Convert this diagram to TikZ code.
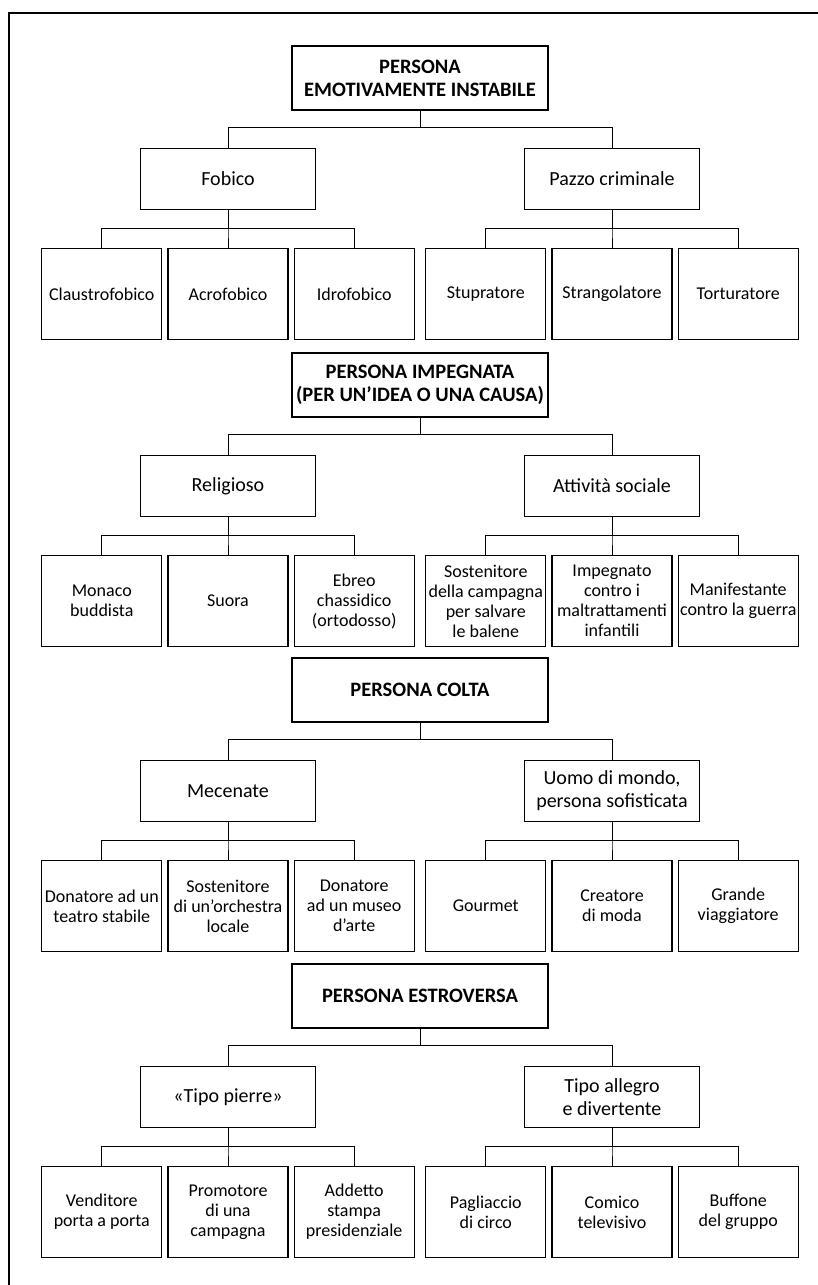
\documentclass[tikz,border=0pt]{standalone}
\usepackage{fontspec}
\setmainfont{Carlito}
\usetikzlibrary{positioning}
\tikzset{
    root/.style={rectangle, draw=black, line width=1.4pt, minimum width=256pt, minimum height=64pt, text centered, align=center, inner sep=2pt, font=\fontsize{20.5}{23}\selectfont\bfseries},
    group/.style={rectangle, draw=black, line width=1.2pt, minimum width=175pt, minimum height=61pt, text centered, align=center, inner sep=2pt, font=\fontsize{20}{23}\selectfont},
    leaf/.style={rectangle, draw=black, line width=1.2pt, minimum width=120pt, minimum height=91pt, text centered, align=center, inner sep=1pt, font=\fontsize{18}{20}\selectfont},
    link/.style={line width=1pt}
}
\begin{document}
\begin{tikzpicture}
    \useasboundingbox (0,0) rectangle (818pt,-1285pt);
    % Frame
    \draw[line width=1.2pt] (9pt,-1285pt) -- (9pt,-13pt) -- (818pt,-13pt);
    % Section 1
    \node (emot) [root] at (420pt,-78pt) {PERSONA\\EMOTIVAMENTE INSTABILE};
    \node (fobico) [group, below=37pt of emot, xshift=-192pt] {Fobico};
    \node (pazzo) [group, below=37pt of emot, xshift=192pt] {Pazzo criminale};
    \node (acro) [leaf, below=38pt of fobico] {Acrofobico};
    \node (claus) [leaf, left=5pt of acro] {Claustrofobico};
    \node (idro) [leaf, right=5pt of acro] {Idrofobico};
    \node (strang) [leaf, below=38pt of pazzo] {Strangolatore};
    \node (stupr) [leaf, left=5pt of strang] {Stupratore};
    \node (tort) [leaf, right=5pt of strang] {Torturatore};
    % Section 2
    \node (impegn) [root] at (420pt,-385pt) {PERSONA IMPEGNATA\\(PER UN’IDEA O UNA CAUSA)};
    \node (relig) [group, below=37pt of impegn, xshift=-192pt] {Religioso};
    \node (sociale) [group, below=37pt of impegn, xshift=192pt] {Attività sociale};
    \node (suora) [leaf, below=38pt of relig] {Suora};
    \node (monaco) [leaf, left=5pt of suora] {Monaco\\buddista};
    \node (ebreo) [leaf, right=5pt of suora] {Ebreo\\chassidico\\(ortodosso)};
    \node (infanz) [leaf, below=38pt of sociale] {Impegnato\\contro i\\maltrattamenti\\infantili};
    \node (balene) [leaf, left=5pt of infanz] {Sostenitore\\della campagna\\per salvare\\le balene};
    \node (guerra) [leaf, right=5pt of infanz] {Manifestante\\contro la guerra};
    % Section 3
    \node (colta) [root] at (420pt,-690pt) {PERSONA COLTA};
    \node (mecen) [group, below=37pt of colta, xshift=-192pt] {Mecenate};
    \node (uomo) [group, below=37pt of colta, xshift=192pt] {Uomo di mondo,\\persona sofisticata};
    \node (orch) [leaf, below=38pt of mecen] {Sostenitore\\di un’orchestra\\locale};
    \node (teatro) [leaf, left=5pt of orch] {Donatore ad un\\teatro stabile};
    \node (museo) [leaf, right=5pt of orch] {Donatore\\ad un museo\\d’arte};
    \node (moda) [leaf, below=38pt of uomo] {Creatore\\di moda};
    \node (gourmet) [leaf, left=5pt of moda] {Gourmet};
    \node (viagg) [leaf, right=5pt of moda] {Grande\\viaggiatore};
    % Section 4
    \node (estro) [root] at (420pt,-996pt) {PERSONA ESTROVERSA};
    \node (pierre) [group, below=37pt of estro, xshift=-192pt] {«Tipo pierre»};
    \node (allegro) [group, below=37pt of estro, xshift=192pt] {Tipo allegro\\e divertente};
    \node (promot) [leaf, below=38pt of pierre] {Promotore\\di una\\campagna};
    \node (vendit) [leaf, left=5pt of promot] {Venditore\\porta a porta};
    \node (stampa) [leaf, right=5pt of promot] {Addetto\\stampa\\presidenziale};
    \node (comico) [leaf, below=38pt of allegro] {Comico\\televisivo};
    \node (pagl) [leaf, left=5pt of comico] {Pagliaccio\\di circo};
    \node (buff) [leaf, right=5pt of comico] {Buffone\\del gruppo};
    % Connectors
    \foreach \top/\kid in {emot/fobico, emot/pazzo, impegn/relig, impegn/sociale,
                           colta/mecen, colta/uomo, estro/pierre, estro/allegro}
        \draw[link] (\top.south) -- ++(0,-17pt) -| (\kid.north);
    \foreach \mid/\kid in {fobico/claus, fobico/acro, fobico/idro,
                           pazzo/stupr, pazzo/strang, pazzo/tort,
                           relig/monaco, relig/suora, relig/ebreo,
                           sociale/balene, sociale/infanz, sociale/guerra,
                           mecen/teatro, mecen/orch, mecen/museo,
                           uomo/gourmet, uomo/moda, uomo/viagg,
                           pierre/vendit, pierre/promot, pierre/stampa,
                           allegro/pagl, allegro/comico, allegro/buff}
        \draw[link] (\mid.south) -- ++(0,-19pt) -| (\kid.north);
\end{tikzpicture}
\end{document}
